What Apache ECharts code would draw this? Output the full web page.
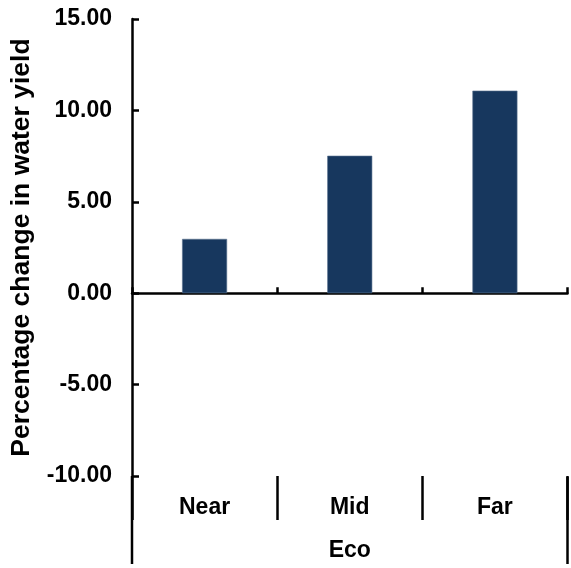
<!DOCTYPE html>
<html>
<head>
<meta charset="utf-8">
<script src="https://cdn.jsdelivr.net/npm/echarts@6/dist/echarts.min.js"></script>
<style>
  html, body { margin: 0; padding: 0; background: #fff; }
  #chart { width: 571px; height: 568px; }
</style>
</head>
<body>
<div id="chart"></div>
<script>
// Scenario periods and percentage change in water yield
const categories = ['Near', 'Mid', 'Far'];
const waterYieldChange = [2.97, 7.52, 11.08];
const groupLabel = 'Eco';
const yTitle = 'Percentage change in water yield';
const yMin = -10, yMax = 15, yStep = 5;

const FONT = '"Liberation Sans", Arial, sans-serif';
const INK = '#000';
const BAR = '#17375e';

const chart = echarts.init(document.getElementById('chart'), null, { renderer: 'canvas' });

const grid = { left: 131.5, right: 3.5, top: 19, bottom: 92 };

chart.setOption({
  animation: false,
  backgroundColor: '#fff',
  grid: grid,
  xAxis: [
    {
      // axis drawn through zero with inward boundary ticks
      type: 'category',
      data: categories,
      boundaryGap: true,
      axisLine: { onZero: true, lineStyle: { color: INK, width: 2.5 } },
      axisTick: { show: true, inside: true, length: 6, alignWithLabel: false, lineStyle: { color: INK, width: 2.5 } },
      axisLabel: { show: false },
      splitLine: { show: false }
    },
    {
      // bottom category labels with separators and group name
      type: 'category',
      data: categories,
      position: 'bottom',
      boundaryGap: true,
      axisLine: { show: false, onZero: false },
      axisTick: { show: true, inside: false, length: 44, lineStyle: { color: INK, width: 2.5 } },
      axisLabel: { show: true, margin: 20, color: INK, fontFamily: FONT, fontWeight: 'bold', fontSize: 23 },
      name: groupLabel,
      nameLocation: 'middle',
      nameGap: 63,
      nameTextStyle: { color: INK, fontFamily: FONT, fontWeight: 'bold', fontSize: 23 }
    }
  ],
  yAxis: {
    type: 'value',
    min: yMin,
    max: yMax,
    interval: yStep,
    axisLine: { show: true, lineStyle: { color: INK, width: 2.5 } },
    axisTick: { show: true, inside: true, length: 7, lineStyle: { color: INK, width: 2.5 } },
    axisLabel: {
      color: INK, fontFamily: FONT, fontWeight: 'bold', fontSize: 23, margin: 20,
      formatter: v => v.toFixed(2)
    },
    splitLine: { show: false },
    name: yTitle,
    nameLocation: 'middle',
    nameGap: 97,
    nameTextStyle: { color: INK, fontFamily: FONT, fontWeight: 'bold', fontSize: 26.5 }
  },
  series: [{
    type: 'bar',
    xAxisIndex: 0,
    data: waterYieldChange,
    barWidth: 45,
    itemStyle: { color: BAR, borderColor: '#5d7391', borderWidth: 0.6 }
  }]
});

// Extend the vertical axis and close the category block below the plot
const bottomY = grid.top + (568 - grid.top - grid.bottom);
const step = chart.convertToPixel({ xAxisIndex: 0 }, 1) - chart.convertToPixel({ xAxisIndex: 0 }, 0);
const xLeft = chart.convertToPixel({ xAxisIndex: 0 }, 0) - step / 2;
const xRight = xLeft + step * categories.length;
chart.setOption({
  graphic: [
    { type: 'line', shape: { x1: xLeft, y1: bottomY, x2: xLeft, y2: 564 }, style: { stroke: INK, lineWidth: 2.5 } },
    { type: 'line', shape: { x1: xRight, y1: bottomY + 1, x2: xRight, y2: 564 }, style: { stroke: INK, lineWidth: 2.5 } }
  ]
});
</script>
</body>
</html>
